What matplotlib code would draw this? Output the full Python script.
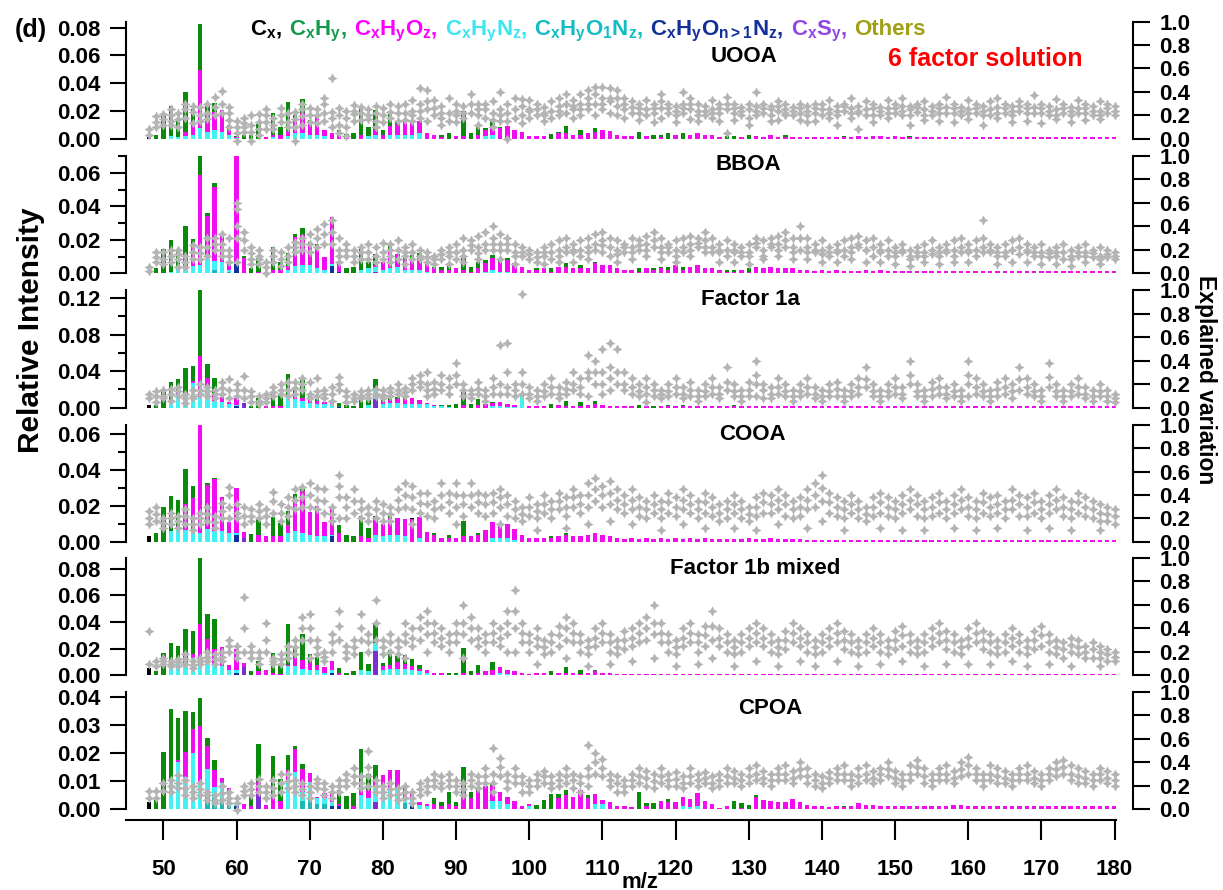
import numpy as np
import matplotlib.pyplot as plt

plt.rcParams['font.family'] = ['Liberation Sans', 'DejaVu Sans']
plt.rcParams['font.weight'] = 'bold'
plt.rcParams['mathtext.fontset'] = 'custom'
plt.rcParams['mathtext.rm'] = 'Liberation Sans:bold'
plt.rcParams['mathtext.it'] = 'Liberation Sans:bold'
plt.rcParams['mathtext.bf'] = 'Liberation Sans:bold'

W, H = 1223, 890
mz = np.arange(48, 181)

# ---------------- UOOA ----------------
uooa_cx = {48: .0012}
uooa_chy = {49: .0027, 50: .0176, 51: .0216, 52: .0125, 53: .029, 54: .011, 55: .033, 56: .0072, 57: .006,
            60: .0008, 61: .003, 62: .003, 63: .0104, 65: .0153, 66: .0052, 67: .0212, 68: .0048, 69: .0103,
            70: .0031, 74: .0033, 75: .0014, 76: .0043, 77: .0201, 78: .0062, 79: .0147, 80: .0033, 81: .0086,
            82: .0019, 83: .001, 88: .0015, 89: .0039, 91: .0182, 92: .0043, 93: .0057, 94: .0012, 95: .005,
            96: .001, 103: .0036, 104: .001, 105: .0054, 107: .0033, 108: .0005, 109: .003, 115: .005,
            117: .0027, 118: .0015, 119: .0043, 121: .0039, 127: .002, 128: .002, 130: .0025, 135: .0015,
            143: .001, 152: .001}
uooa_cho = [0, 0, 0, 0, 0, .0025, .0076, .0415, .0114, .0135,
            .0157, .0069, .0007, 0, 0, 0, .001, .002, .003, .0035,
            .0083, .0143, .0074, .0136, .0043, .0043, .003, .002, 0, .003,
            0, .003, .003, .0062, .0074, .0105, .008, .0085, .0039, .0027,
            .0012, 0, .002, .002, 0, .003, .0043, .0062, .0075, .0092,
            .0063, .005, .002, .002, .002, 0, .004, .004, .0027, .003,
            .0038, .005, .0063, .0055, .0027, .002, .002, 0, .002, 0,
            .0015, 0, .003, 0, .003, .0043, .0025, .0025, .0012, 0,
            0, .0012, 0, .002, .0012, .0025, .0015, .0012, .0015, .0012,
            .0013, .0012, .0013, .0012, .0013, .001, .0013, .0018, .0013, .0018,
            .0018, .0013, .0018, .0012, .0013, .0012, .0012, .0013, .0012, .0012,
            .0012, .0013, .0012, .0012, .0013, .0012, .0012, .0012, .0012, .0012,
            .0012, .0012, .0013, .0012, .0012, .0012, .0013, .0012, .0012, .0012,
            .0012, .0012, .0012]
uooa_chn = {51: .002, 52: .001, 53: .002, 54: .003, 55: .008, 56: .005, 57: .006, 58: .005, 59: .003,
            60: .0005, 65: .001, 67: .002, 68: .004, 69: .004, 70: .003, 71: .003, 72: .002, 78: .002,
            79: .003, 81: .003, 82: .003, 83: .003, 84: .003, 85: .004, 94: .002, 95: .003}
uooa_ev = [[.03], [.19, .14], [.21, .17], [.25, .2, .12], [.17, .1], [.3, .25], [.23, .13], [.27, .2], [.3, .22], [.36, .27],
           [.41, .3], [.27, .22, .1], [.1, .05, -.02], [.18, .13, .06], [.2, .12, -.02], [.21, .14, .03], [.2, .14, .08], [.12, .08], [.26, .2], [.22, .14],
           [.23, .17, -.02], [.25, .19, .12], [.26, .2], [.2, .13], [.35, .3, .15], [.52, .23, .1], [.26, .12, .05], [.24, .18, .02], [.29, .21, .15], [.27, .22],
           [.25, .17], [.28, .22, .15], [.26, .2], [.3, .23], [.28, .22], [.3, .22], [.33, .24, .15], [.43, .3, .18], [.42, .25, .15], [.33, .2],
           [.28, .18, .12], [.35, .22], [.3, .2, .14], [.28, .18], [.38, .22], [.3, .2, .12], [.25, .18], [.32, .22, .1], [.4, .25, .15], [.3, .22, .0],
           [.35, .25], [.28, .2, .13], [.33, .24, .18], [.3, .2], [.27, .2, .15], [.32, .24], [.35, .28, .2], [.38, .3, .22], [.33, .25, .18], [.38, .3, .2],
           [.42, .35, .25], [.44, .3, .2], [.44, .35, .25], [.43, .32, .22], [.42, .28, .2], [.35, .25, .18], [.32, .22], [.3, .22, .16], [.33, .25], [.3, .22, .14],
           [.38, .26, .18], [.3, .22], [.28, .2, .14], [.4, .3, .22], [.35, .25, .17], [.3, .24, .15], [.28, .2], [.33, .25, .18], [.3, .22, .15], [.36, .25, .05],
           [.3, .22, .16], [.27, .2], [.25, .18, .12], [.4, .28, .2], [.3, .22], [.28, .2, .15], [.32, .24, .16], [.3, .25, .2], [.27, .2], [.3, .22, .16],
           [.28, .2, .14], [.3, .22, .15], [.25, .2], [.33, .25, .18], [.28, .2, .12], [.3, .24], [.35, .26, .18], [.28, .22, .08], [.32, .25], [.3, .2, .14],
           [.27, .2], [.33, .26, .18], [.3, .22], [.35, .28, .2], [.28, .2, .12], [.3, .23], [.32, .25, .16], [.28, .2], [.3, .22, .15], [.36, .27],
           [.3, .22, .14], [.27, .2], [.33, .25, .17], [.3, .22], [.28, .2, .12], [.32, .25], [.35, .27, .18], [.3, .22], [.28, .2, .14], [.32, .24],
           [.3, .22, .15], [.37, .27], [.3, .22, .13], [.28, .2], [.34, .25, .17], [.3, .22], [.27, .2, .14], [.33, .26], [.3, .22, .16], [.28, .2],
           [.32, .24, .17], [.3, .22], [.28, .2]]
uooa_ev2 = [.08, .1, .12, .15, .22, .18, .28, .15, .17, .2,
            .22, .16, .15, .1, .06, .08, .25, .18, .14, .1,
            .1, .3, .14, .25, .22, .18, .2, .1, .24, .16,
            .2, .1, .14, .18, .15, .16, .2, .24, .32, .26,
            .22, .15, .24, .22, .3, .25, .3, .16, .2, .15,
            .18, .34, .25, .25, .22, .18, .24, .3, .28, .25,
            .3, .38, .3, .35, .35, .3, .27, .26, .2, .26,
            .32, .26, .24, .26, .3, .2, .24, .22, .26, .3,
            .26, .24, .3, .24, .26, .25, .28, .22, .24, .26,
            .24, .26, .3, .22, .24, .28, .22, .24, .2, .26,
            .24, .22, .26, .24, .25, .27, .2, .24, .26, .22,
            .26, .24, .22, .26, .24, .2, .22, .26, .24, .28,
            .26, .22, .26, .24, .2, .26, .24, .22, .26, .24,
            .2, .26, .24]

# ---------------- BBOA ----------------
bboa_cx = {48: .001}
bboa_chy = {49: .003, 50: .0143, 51: .0189, 52: .0105, 53: .0173, 54: .0048, 55: .0115, 56: .002, 57: .0028,
            61: .001, 62: .0034, 63: .008, 65: .0135, 66: .0049, 67: .0078, 68: .0015, 69: .004, 70: .0009,
            71: .001, 74: .0023, 75: .0034, 76: .004, 77: .0133, 78: .0039, 79: .0063, 81: .0029, 83: .001,
            84: .003, 85: .002, 86: .001, 87: .001, 88: .002, 89: .004, 91: .008, 92: .003, 93: .004, 94: .002,
            95: .002, 96: .001, 97: .001, 101: .001, 103: .002, 105: .002, 107: .002, 109: .001, 115: .002,
            117: .001, 118: .001, 119: .002, 121: .002, 127: .001, 128: .001, 130: .002}
bboa_cho = [0, 0, 0, 0, .001, .0079, .011, .0537, .0252, .0438,
            .0164, .0043, .063, .0093, 0, .001, .0005, .002, .002, .0025,
            .0174, .0179, .013, .0133, .0079, .0279, .004, 0, 0, 0,
            0, .0012, .0049, .0109, .0075, .006, .006, .008, .005, .003,
            .002, .002, .003, .002, .001, .003, .005, .007, .006, .007,
            .006, .004, .002, .002, .003, .001, .004, .004, .003, .003,
            .003, .006, .005, .005, .003, .002, .002, .001, .003, .002,
            .003, .002, .005, .002, .004, .005, .003, .003, .002, .001,
            .001, .002, .001, .004, .003, .004, .003, .003, .003, .002,
            .002, .0012, .002, .0015, .002, .0012, .0015, .0015, .002, .0015,
            .002, .0015, .0015, .0012, .0015, .0012, .0012, .0015, .0012, .0012,
            .0015, .0012, .0015, .0012, .0012, .0012, .0012, .0012, .0012, .0012,
            .0012, .0012, .0012, .0012, .0012, .0012, .0012, .0012, .0012, .0012,
            .0012, .0012, .0012]
bboa_chn = {51: .001, 52: .003, 53: .003, 54: .0045, 55: .005, 56: .009, 57: .0055, 58: .0065, 59: .001,
            60: .0015, 67: .002, 68: .0044, 69: .005, 70: .005, 71: .003, 72: .002, 73: .001, 77: .002,
            78: .003, 79: .003, 80: .002, 81: .003, 82: .004, 83: .002, 84: .002, 85: .002, 86: .001,
            94: .001, 95: .002, 96: .001, 97: .001}
bboa_chon = {57: .002, 59: .001}
bboa_chonn = {60: .0055, 73: .0045, 74: .001}
bboa_cs = {79: .001}
bboa_ev = [[.05], [.18, .1], [.18, .12], [.15, .1], [.2, .12, .05], [.15, .05], [.24, .18], [.22, .12], [.3, .22], [.3, .2],
           [.33, .25, .15], [.3, .2, .1], [.6, .55, .3, .1], [.35, .2], [.22, .17, .12], [.2, .15, .08], [.05, .0], [.15, .1], [.18, .12], [.22, .15],
           [.27, .18], [.3, .2], [.33, .25], [.38, .3], [.42, .33], [.45, .35], [.3, .2, .1], [.25, .15], [.2, .15], [.22, .18],
           [.25, .18], [.22, .15], [.26, .18], [.25, .2, .1], [.28, .2], [.22, .15, .08], [.25, .18], [.2, .12], [.18, .1], [.15, .08],
           [.2, .12], [.22, .15, .08], [.25, .18], [.3, .2, .1], [.28, .2], [.32, .22, .12], [.35, .25], [.4, .3, .2], [.33, .25, .12], [.3, .2],
           [.25, .18, .08], [.22, .15], [.2, .12], [.18, .1], [.22, .15, .08], [.25, .18], [.28, .2, .1], [.3, .22], [.25, .18, .1], [.28, .2],
           [.3, .22, .12], [.33, .25], [.35, .28, .18], [.3, .22], [.28, .2, .1], [.25, .18], [.3, .22, .12], [.28, .2], [.32, .25, .15], [.35, .28],
           [.3, .22, .12], [.25, .18], [.28, .2, .1], [.3, .22], [.32, .25, .15], [.3, .22], [.35, .28, .18], [.3, .22], [.25, .18, .1], [.28, .2],
           [.25, .18, .1], [.22, .15], [.25, .18, .08], [.3, .22], [.28, .2, .12], [.3, .22], [.32, .25, .15], [.35, .28], [.3, .22, .12], [.4, .3, .2],
           [.3, .22, .12], [.25, .18], [.28, .2, .1], [.22, .15], [.25, .18, .1], [.28, .2], [.3, .22, .12], [.32, .25], [.28, .2, .1], [.3, .22],
           [.25, .18, .1], [.28, .2], [.22, .15, .08], [.25, .18], [.2, .12, .06], [.22, .15], [.25, .18, .1], [.28, .2], [.22, .15, .08], [.25, .18],
           [.28, .2, .1], [.3, .22], [.25, .18, .1], [.28, .2], [.45, .3, .18], [.25, .18], [.22, .15, .08], [.25, .18], [.28, .2, .1], [.3, .22],
           [.25, .18, .1], [.22, .15], [.25, .18, .08], [.2, .14], [.22, .15, .08], [.25, .18], [.2, .12, .06], [.22, .15], [.25, .18, .1], [.2, .14],
           [.22, .15, .08], [.2, .14], [.18, .12]]
bboa_ev2 = [.02, .14, .08, .2, .16, .1, .12, .17, .15, .25,
            .2, .15, .4, .28, .08, .12, .1, .2, .06, .1,
            .22, .25, .18, .22, .25, .25, .15, .2, .1, .12,
            .12, .1, .12, .15, .12, .18, .12, .15, .14, .12,
            .16, .18, .12, .15, .24, .17, .2, .25, .2, .25,
            .15, .18, .16, .14, .18, .12, .15, .18, .2, .15,
            .18, .2, .24, .15, .16, .22, .18, .24, .2, .22,
            .18, .22, .15, .18, .2, .26, .22, .18, .2, .15,
            .2, .18, .15, .26, .15, .25, .2, .22, .18, .3,
            .18, .2, .16, .18, .2, .15, .18, .22, .2, .15,
            .2, .15, .18, .2, .15, .18, .15, .16, .18, .2,
            .15, .18, .2, .15, .22, .2, .18, .15, .2, .16,
            .2, .18, .15, .17, .18, .12, .15, .18, .15, .17,
            .12, .16, .15]

# ---------------- Factor 1a ----------------
f1a_cx = {48: .003}
f1a_chy = {49: .003, 50: .0175, 51: .0218, 52: .0157, 53: .0285, 54: .0164, 55: .0733, 56: .0157, 57: .0183,
           62: .002, 63: .0103, 65: .0155, 66: .013, 67: .0252, 68: .0095, 69: .0208, 70: .0044, 71: .0025,
           74: .004, 75: .003, 76: .002, 77: .0128, 78: .0058, 79: .012, 80: .0057, 81: .0059, 82: .0027,
           83: .003, 88: .001, 89: .002, 90: .004, 91: .0145, 92: .004, 93: .0065, 95: .001, 103: .004,
           105: .005, 107: .004, 109: .003, 115: .003, 117: .002, 119: .002, 121: .002, 128: .002}
f1a_cho = [0, 0, 0, 0, .001, .0019, .0027, .0447, .0084, .0066,
           .006, .0026, .008, 0, 0, 0, .002, .002, .002, 0,
           .0038, .0033, .0045, .003, .0018, .004, 0, 0, 0, 0,
           0, 0, .002, .003, .004, .005, .0063, .004, .001, .001,
           0, 0, 0, .003, 0, .003, .004, .003, .004, .003,
           .002, .001, .0015, .002, .002, 0, .003, .002, .002, .002,
           .003, .004, .003, .002, .002, .0015, .0015, 0, .0015, 0,
           .0015, .0015, .0015, .0015, .0015, .0015, .0015, .0015, .0015, .0015,
           .0015, .0015, .0015, .0015, .0015, .0015, .0015, .0015, .0015, .0015,
           .0015, .0015, .0015, .0015, .0015, .0015, .0015, .0015, .0015, .0015,
           .0015, .0015, .0015, .0015, .0015, .0015, .0015, .0015, .0015, .0015,
           .0015, .0015, .0015, .0015, .0015, .0015, .0015, .0015, .0015, .0015,
           .0015, .0015, .0015, .0015, .0015, .0015, .0015, .0015, .0015, .0015,
           .0015, .0015, .0015]
f1a_chn = {51: .006, 52: .0147, 53: .0128, 54: .0266, 55: .012, 56: .0238, 57: .0073, 58: .006, 59: .004,
           60: .001, 67: .0117, 68: .009, 69: .007, 70: .005, 71: .004, 72: .004, 73: .004, 78: .003,
           79: .0099, 80: .004, 81: .005, 82: .005, 83: .004, 84: .004, 85: .004, 86: .004, 87: .002,
           88: .002, 89: .001, 95: .002, 96: .002, 97: .001, 98: .001, 99: .015}
f1a_chonn = {60: .002, 74: .001}
f1a_cs = {61: .005, 79: .0095}
f1a_ev = [[.12], [.1, .05], [.15, .08], [.12, .06], [.18, .1], [.08, .04], [.15, .08], [.2, .12], [.18, .1], [.15, .08],
          [.22, .12], [.24, .15], [.2, .1], [.27, .15], [.1, .05], [.1, .06], [.12, .05], [.18, .1], [.2, .12], [.22, .1],
          [.22, .12], [.25, .15], [.22, .12], [.25, .14], [.15, .08], [.12, .06], [.26, .15], [.1, .05], [.12, .06], [.14, .08],
          [.15, .08], [.16, .1], [.15, .08], [.17, .1], [.2, .12], [.17, .1], [.25, .15], [.28, .18], [.3, .2, .1], [.22, .12],
          [.28, .15], [.25, .12], [.38, .2], [.2, .1], [.15, .08], [.22, .12], [.15, .06], [.25, .12], [.53, .2], [.55, .3, .12],
          [.2, .1], [.97, .3, .12], [.18, .08], [.15, .06], [.2, .1], [.25, .12], [.18, .08], [.22, .12], [.3, .15], [.25, .12],
          [.45, .25, .1], [.4, .2], [.5, .3, .12], [.55, .35, .15], [.5, .3], [.3, .15], [.25, .12], [.2, .1], [.25, .12, .05], [.2, .1],
          [.15, .08], [.2, .1], [.25, .12], [.18, .08], [.22, .1], [.15, .06], [.2, .1], [.25, .12], [.18, .08], [.35, .15],
          [.2, .1], [.15, .06], [.22, .1], [.4, .2, .1], [.2, .08], [.18, .08], [.25, .12], [.2, .1], [.15, .06], [.2, .1],
          [.25, .12], [.18, .08], [.15, .06], [.2, .1], [.22, .1], [.15, .06], [.2, .1], [.25, .12], [.35, .18], [.2, .1],
          [.15, .06], [.2, .1], [.25, .12], [.18, .08], [.4, .2], [.2, .1], [.15, .06], [.22, .1], [.25, .12], [.18, .08],
          [.2, .1], [.15, .06], [.4, .2, .1], [.25, .12], [.2, .1], [.15, .06], [.22, .1], [.25, .12], [.2, .08], [.35, .15],
          [.25, .12], [.2, .1], [.15, .06], [.38, .18], [.2, .1], [.15, .06], [.2, .1], [.25, .12], [.18, .08], [.15, .06],
          [.2, .1], [.15, .06], [.12, .05]]
f1a_ev2 = [.08, .14, .1, .16, .14, .12, .1, .15, .14, .12,
           .17, .08, .15, .08, .14, .03, .08, .13, .15, .15,
           .17, .2, .08, .1, .12, .18, .2, .14, .08, .1,
           .12, .12, .11, .13, .15, .13, .2, .22, .15, .16,
           .2, .18, .28, .15, .12, .16, .1, .18, .12, .18,
           .15, .2, .12, .1, .14, .18, .12, .16, .2, .18,
           .3, .3, .2, .25, .2, .2, .18, .14, .18, .15,
           .12, .14, .18, .12, .15, .1, .14, .18, .12, .22,
           .14, .1, .15, .28, .15, .12, .18, .14, .1, .14,
           .18, .12, .1, .14, .16, .1, .14, .18, .24, .14,
           .1, .14, .18, .12, .28, .14, .1, .16, .18, .12,
           .14, .1, .28, .18, .14, .1, .16, .18, .14, .24,
           .18, .14, .1, .26, .14, .1, .14, .18, .12, .1,
           .14, .1, .08]

# ---------------- COOA ----------------
cooa_cx = {48: .0032, 84: .0005}
cooa_chy = {49: .0047, 50: .0192, 51: .0198, 52: .0145, 53: .0197, 54: .007, 56: .0013, 57: .0007, 62: .0042,
            63: .0094, 65: .0109, 66: .0072, 67: .0078, 68: .0024, 69: .002, 74: .0043, 75: .004, 76: .003,
            77: .0113, 78: .0055, 79: .0015, 81: .001, 87: .001, 89: .002, 91: .0084, 93: .001, 103: .001,
            105: .001}
cooa_cho = [0, 0, 0, 0, .0012, .0143, .0172, .0604, .0246, .029,
            .0191, .0058, .0251, .0035, 0, .004, .003, .003, .003, .0043,
            .0182, .0233, .0124, .0169, .0078, .016, .005, 0, 0, .003,
            .002, .009, .0067, .0093, .0094, .0094, .0125, .0116, .0055, .004,
            .002, .002, .002, .003, .003, .004, .0065, .009, .007, .008,
            .006, .004, .002, .002, .002, .002, .003, .004, .003, .003,
            .004, .005, .004, .003, .002, .0015, .002, .0015, .002, .0015,
            .002, .0015, .002, .0015, .002, .0015, .002, .0015, .0015, .0015,
            .0015, .0015, .002, .0015, .0015, .002, .0015, .0015, .0015, .0015,
            .0012, .0012, .0012, .0012, .0012, .0012, .0012, .0012, .0012, .0012,
            .0012, .0012, .0012, .0012, .0012, .0012, .0012, .0012, .0012, .0012,
            .0012, .0012, .0012, .0012, .0012, .0012, .0012, .0012, .0012, .0012,
            .0012, .0012, .0012, .0012, .0012, .0012, .0012, .0012, .0012, .0012,
            .0012, .0012, .0012]
cooa_chn = {51: .0057, 52: .0075, 53: .0065, 54: .007, 55: .005, 56: .007, 57: .006, 58: .006, 59: .005,
            60: .0015, 67: .005, 68: .006, 69: .005, 70: .004, 71: .003, 72: .003, 73: .001, 79: .004,
            80: .003, 81: .004, 82: .004, 83: .003, 85: .002, 95: .002, 96: .002, 97: .002, 98: .001}
cooa_chonn = {60: .0035, 73: .003}
cooa_cs = {61: .002}
cooa_ev = [[.26, .15], [.3, .18], [.2, .12], [.25, .15], [.22, .12], [.28, .15], [.2, .1], [.25, .15], [.3, .18], [.22, .12],
           [.33, .2], [.47, .4, .2], [.32, .2], [.3, .15], [.28, .18], [.32, .2], [.28, .15], [.43, .25], [.32, .18], [.38, .22],
           [.45, .28], [.47, .3], [.5, .3], [.46, .28], [.45, .25], [.3, .18], [.57, .38, .2], [.38, .2], [.45, .25], [.35, .2],
           [.3, .18], [.35, .2], [.32, .18], [.3, .18], [.45, .28], [.5, .3], [.48, .28, .15], [.42, .25], [.42, .22], [.35, .2],
           [.5, .3], [.42, .25], [.5, .3, .15], [.4, .22], [.5, .3], [.42, .25], [.4, .22], [.42, .25], [.45, .3, .15], [.4, .22],
           [.35, .2], [.3, .18], [.38, .22], [.32, .2, .1], [.4, .25], [.35, .2], [.42, .28], [.38, .22, .12], [.45, .3], [.4, .25],
           [.5, .3, .15], [.55, .35], [.48, .3], [.52, .32, .18], [.45, .28], [.4, .25], [.45, .28, .15], [.38, .22], [.35, .2], [.4, .25],
           [.35, .2, .1], [.42, .25], [.38, .22], [.45, .28, .15], [.4, .25], [.35, .2], [.42, .25, .12], [.38, .22], [.32, .18], [.35, .2],
           [.4, .25, .12], [.35, .2], [.3, .18], [.38, .22, .1], [.42, .25], [.4, .25], [.45, .28, .15], [.4, .22], [.35, .2], [.38, .22],
           [.45, .28, .12], [.5, .3], [.57, .35, .18], [.42, .25], [.38, .22], [.35, .2, .1], [.4, .25], [.35, .2], [.3, .18], [.38, .22],
           [.42, .25, .12], [.38, .22], [.35, .2], [.4, .25, .1], [.45, .28], [.4, .22], [.35, .2, .1], [.38, .22], [.42, .25], [.35, .2],
           [.4, .25, .12], [.45, .28], [.38, .22], [.35, .2, .1], [.42, .25], [.38, .22], [.4, .25, .12], [.35, .2], [.45, .28], [.4, .22],
           [.38, .22, .1], [.42, .25], [.35, .2], [.4, .25, .12], [.45, .28], [.38, .22], [.35, .2, .1], [.42, .25], [.38, .22], [.35, .2],
           [.32, .18, .1], [.3, .18], [.28, .15]]
cooa_ev2 = [.2, .24, .16, .2, .18, .22, .15, .2, .24, .17,
            .26, .3, .25, .22, .22, .26, .22, .35, .25, .3,
            .36, .38, .4, .36, .35, .24, .48, .3, .35, .28,
            .24, .28, .25, .24, .36, .4, .38, .33, .32, .28,
            .4, .34, .4, .32, .4, .34, .32, .34, .38, .32,
            .28, .24, .3, .26, .32, .28, .35, .3, .38, .32,
            .4, .45, .4, .42, .36, .32, .36, .3, .28, .32,
            .28, .34, .3, .36, .32, .28, .34, .3, .25, .28,
            .32, .28, .24, .3, .34, .32, .36, .32, .28, .3,
            .36, .4, .46, .34, .3, .28, .32, .28, .24, .3,
            .34, .3, .28, .32, .36, .32, .28, .3, .34, .28,
            .32, .36, .3, .28, .34, .3, .32, .28, .36, .32,
            .3, .34, .28, .32, .36, .3, .28, .34, .3, .28,
            .25, .24, .22]

# ---------------- Factor 1b mixed ----------------
f1b_cx = {48: .0055}
f1b_chy = {49: .003, 50: .0168, 51: .0188, 52: .012, 53: .0237, 54: .0175, 55: .0501, 56: .0188, 57: .0225,
           62: .003, 63: .0078, 65: .0148, 66: .0075, 67: .0308, 68: .008, 69: .0198, 70: .007, 71: .0058,
           74: .0035, 75: .002, 76: .003, 77: .0133, 78: .0058, 79: .015, 80: .0025, 81: .0113, 82: .0045,
           83: .007, 84: .0055, 85: .003, 89: .002, 90: .002, 91: .0185, 92: .003, 93: .006, 95: .0058,
           103: .003, 105: .004, 107: .003, 109: .001}
f1b_cho = [0, 0, 0, 0, .001, .0033, .003, .0293, .0102, .0113,
           .014, .004, .016, .0035, 0, .003, .004, .002, .001, .001,
           .0063, .0065, .005, .004, .004, .0068, .002, 0, 0, 0,
           0, 0, .0028, .003, .0048, .0035, .0028, .002, .002, .002,
           .002, 0, 0, .002, 0, .002, .003, .004, .004, .003,
           .003, .002, .0012, .002, .002, 0, .002, .002, .002, .0012,
           .002, .003, .002, .002, .0012, .0012, .0012, .0012, .0012, .0012,
           .0012, .0012, .0012, .0012, .0012, .0012, .0012, .0012, .0012, .0012,
           .0012, .0012, .0012, .0012, .0012, .0012, .0012, .0012, .0012, .0012,
           .0012, .0012, .0012, .0012, .0012, .0012, .0012, .0012, .0012, .0012,
           .0012, .0012, .0012, .0012, .0012, .0012, .0012, .0012, .0012, .0012,
           .0012, .0012, .0012, .0012, .0012, .0012, .0012, .0012, .0012, .0012,
           .0012, .0012, .0012, .0012, .0012, .0012, .0012, .0012, .0012, .0012,
           .0012, .0012, .0012]
f1b_chn = {51: .0055, 52: .0093, 53: .008, 54: .013, 55: .0093, 56: .0173, 57: .0085, 58: .007, 59: .004,
           60: .002, 67: .0068, 68: .007, 69: .005, 70: .004, 71: .004, 72: .002, 73: .002, 77: .004,
           78: .003, 79: .0055, 80: .004, 81: .005, 82: .005, 83: .005, 84: .004, 85: .003, 86: .002,
           96: .002, 97: .001}
f1b_chonn = {60: .002, 73: .002}
f1b_cs = {61: .006, 79: .0185}
f1b_ev = [[.38], [.12], [.15, .1], [.12, .08], [.14, .08], [.18, .1], [.12, .06], [.15, .1], [.2, .12], [.18, .1],
          [.2, .12], [.3, .2], [.25, .15], [.67, .2], [.25, .15], [.2, .1], [.45, .2], [.15, .1], [.18, .1], [.25, .15],
          [.3, .18], [.5, .3], [.52, .3, .15], [.3, .18], [.2, .12], [.35, .2], [.55, .3], [.25, .15], [.3, .18], [.52, .3],
          [.35, .2], [.64, .3], [.3, .18], [.35, .2], [.3, .18], [.45, .28, .15], [.4, .25], [.5, .3], [.55, .35, .2], [.45, .28],
          [.4, .25], [.35, .2], [.45, .28], [.6, .35, .15], [.5, .3], [.4, .25], [.35, .2], [.45, .28], [.4, .25], [.55, .35, .2],
          [.73, .4, .2], [.45, .28], [.35, .2], [.4, .25, .1], [.3, .18], [.35, .2], [.42, .25], [.5, .3, .15], [.45, .28], [.35, .2],
          [.3, .18, .08], [.4, .25], [.45, .28], [.35, .2, .1], [.3, .18], [.38, .22], [.4, .25, .12], [.45, .28], [.5, .3], [.6, .35, .15],
          [.45, .28], [.35, .2], [.3, .18, .08], [.4, .25], [.45, .28], [.35, .2, .1], [.42, .25], [.55, .3, .15], [.4, .25], [.35, .2],
          [.3, .18, .08], [.35, .2], [.4, .25], [.45, .28, .12], [.4, .25], [.35, .2], [.3, .18, .08], [.38, .22], [.45, .28], [.4, .25, .12],
          [.35, .2], [.3, .18, .08], [.35, .2], [.4, .25], [.45, .28, .12], [.38, .22], [.35, .2], [.3, .18, .08], [.35, .2], [.4, .25],
          [.35, .2, .1], [.3, .18], [.38, .22], [.42, .25, .12], [.35, .2], [.3, .18], [.35, .2, .08], [.4, .25], [.45, .28], [.38, .22, .1],
          [.35, .2], [.3, .18], [.4, .25, .1], [.45, .28], [.38, .22], [.35, .2, .1], [.3, .18], [.35, .2], [.4, .25, .12], [.35, .2],
          [.3, .18, .08], [.38, .22], [.42, .25], [.35, .2, .1], [.3, .18], [.28, .15], [.32, .2, .08], [.3, .18], [.25, .15], [.28, .15],
          [.25, .15, .08], [.22, .12], [.2, .12]]
f1b_ev2 = [.1, .08, .12, .1, .11, .14, .09, .12, .16, .14,
           .16, .25, .2, .4, .2, .15, .3, .12, .14, .2,
           .24, .4, .4, .24, .16, .28, .42, .2, .24, .4,
           .28, .45, .24, .28, .24, .35, .32, .4, .45, .36,
           .32, .28, .36, .45, .4, .32, .28, .36, .32, .45,
           .55, .36, .28, .32, .24, .28, .34, .4, .36, .28,
           .24, .32, .36, .28, .24, .3, .32, .36, .4, .45,
           .36, .28, .24, .32, .36, .28, .34, .42, .32, .28,
           .24, .28, .32, .36, .32, .28, .24, .3, .36, .32,
           .28, .24, .28, .32, .36, .3, .28, .24, .28, .32,
           .28, .24, .3, .34, .28, .24, .28, .32, .36, .3,
           .28, .24, .32, .36, .3, .28, .24, .28, .32, .28,
           .24, .3, .34, .28, .24, .22, .26, .24, .2, .22,
           .2, .18, .16]

# ---------------- CPOA ----------------
cpoa_cx = {48: .0027}
cpoa_chy = {49: .0035, 50: .0204, 51: .0254, 52: .0148, 53: .0146, 54: .0061, 55: .01, 56: .0029, 57: .0036,
            62: .0032, 63: .0134, 65: .0139, 66: .0077, 67: .0054, 68: .001, 69: .0018, 74: .0048, 75: .0047,
            76: .0047, 77: .0148, 78: .0057, 79: .005, 87: .0019, 88: .0015, 89: .004, 90: .0015, 91: .0106,
            92: .002, 93: .0007, 95: .001, 101: .0016, 102: .0032, 103: .0055, 104: .0015, 105: .0017,
            108: .001, 115: .0062, 116: .0011, 117: .0021, 119: .001, 128: .003, 129: .0016, 130: .0015,
            131: .0005, 143: .0005}
cpoa_cho = [0, 0, 0, 0, .0006, .0088, .0084, .0205, .0084, .0059,
            .0021, .0019, 0, .002, .001, .0048, .0015, .005, .003, .0037,
            .0083, .008, .0031, .0005, .0017, .003, .001, 0, .001, .0018,
            .0028, .0029, .0039, .0072, .0068, .0031, .0022, .0012, .001, .002,
            .001, .002, .001, .0043, .004, .0064, .0083, .0053, .003, .0023,
            .0029, .001, .001, 0, 0, 0, .004, .005, .0043, .0067,
            .004, .0033, .0014, .0025, .001, .001, .0007, 0, .001, 0,
            .0031, .0025, .0025, .0035, .003, .0047, .003, .0018, .0005, .001,
            0, .0005, 0, .0045, .0034, .0031, .0025, .0025, .0035, .0025,
            .0015, .001, .001, .0008, .001, .0007, .001, .0021, .0015, .0015,
            .001, .001, .0012, .001, .001, .001, .001, .001, .001, .001,
            .0015, .0015, .0012, .001, .001, .001, .001, .001, .001, .001,
            .001, .001, .001, .001, .001, .001, .001, .001, .001, .001,
            .001, .001, .001]
cpoa_chn = {51: .0101, 52: .0169, 53: .0116, 54: .0201, 55: .0092, 56: .0092, 57: .004, 58: .0052, 59: .0025,
            60: .0012, 67: .0102, 68: .0133, 69: .0032, 70: .0057, 71: .002, 72: .002, 73: .0017, 77: .005,
            78: .004, 79: .0051, 80: .0082, 81: .0067, 82: .0071, 83: .002, 84: .003, 85: .0015, 86: .001,
            95: .003, 96: .003, 97: .002, 100: .001, 109: .002, 110: .002, 121: .001, 122: .0007, 123: .001}
cpoa_chon = {56: .005, 57: .004, 58: .004, 59: .003, 69: .003, 70: .004, 71: .002, 72: .002, 83: .0023}
cpoa_chonn = {60: .001, 73: .001, 74: .001, 84: .001}
cpoa_cs = {63: .005, 79: .0027}
cpoa_ev = [[.16], [.16], [.22], [.25, .15], [.29, .18], [.25, .12], [.2, .1], [.22, .12], [.15, .08], [.12, .05],
           [.2, .08], [.15, .05], [.1, -.01], [.2, .12], [.22, .12], [.26, .15], [.2, .1], [.25, .12], [.3, .15], [.3, .18],
           [.25, .15], [.22, .12], [.2, .1], [.26, .18], [.22, .12], [.2, .1], [.25, .15], [.3, .2], [.35, .22], [.28, .18],
           [.5, .36, .2], [.25, .15], [.2, .1], [.22, .12], [.18, .08], [.2, .1], [.15, .05], [.22, .12], [.25, .15], [.3, .2],
           [.28, .18], [.3, .2], [.25, .15], [.22, .12], [.3, .2], [.28, .18], [.35, .22], [.52, .3, .15], [.44, .28], [.3, .18],
           [.35, .22], [.28, .15], [.25, .15], [.3, .2], [.33, .22], [.28, .18], [.3, .2], [.35, .22], [.3, .18], [.28, .15],
           [.55, .35, .2], [.48, .3], [.43, .28], [.3, .2], [.28, .15], [.25, .15], [.3, .2], [.35, .22], [.33, .2], [.3, .18],
           [.35, .22], [.3, .2], [.32, .2], [.28, .18], [.35, .22], [.3, .2], [.32, .22], [.28, .18], [.3, .2], [.35, .22],
           [.33, .22], [.3, .2], [.35, .22], [.38, .25], [.33, .22], [.3, .2], [.35, .25], [.38, .25], [.33, .22], [.4, .28],
           [.35, .22], [.3, .2], [.28, .18], [.32, .22], [.35, .25], [.38, .25], [.3, .2], [.35, .22], [.38, .25], [.33, .22],
           [.35, .25], [.4, .28], [.33, .22], [.3, .2], [.38, .25], [.42, .3], [.35, .22], [.3, .2], [.35, .25], [.38, .25],
           [.33, .22], [.4, .28], [.45, .3], [.35, .25], [.3, .2], [.38, .25], [.35, .22], [.33, .22], [.3, .2], [.35, .25],
           [.38, .25], [.33, .22], [.3, .2], [.35, .25], [.4, .28], [.42, .3], [.38, .25], [.35, .22], [.33, .22], [.3, .2],
           [.35, .25], [.33, .22], [.3, .2]]
cpoa_ev2 = [.1, .1, .16, .2, .22, .18, .15, .17, .12, .08,
            .14, .1, .05, .16, .17, .2, .15, .18, .22, .24,
            .2, .17, .15, .22, .17, .15, .2, .25, .28, .22,
            .28, .2, .15, .17, .13, .15, .1, .17, .2, .25,
            .22, .25, .2, .17, .25, .22, .28, .22, .36, .24,
            .28, .22, .2, .25, .28, .22, .25, .28, .25, .22,
            .28, .4, .35, .25, .22, .2, .25, .28, .27, .24,
            .28, .25, .26, .22, .28, .25, .27, .22, .25, .28,
            .27, .25, .28, .3, .27, .25, .3, .3, .27, .34,
            .28, .25, .22, .27, .3, .3, .25, .28, .3, .27,
            .3, .34, .27, .25, .3, .36, .28, .25, .3, .3,
            .27, .34, .38, .3, .25, .3, .28, .27, .25, .3,
            .3, .27, .25, .3, .34, .36, .3, .28, .27, .25,
            .3, .27, .25]

# stacking order, bottom to top
stack_colors = {'cs': '#7a30d0', 'chonn': '#10309a', 'chon': '#1fb6b6', 'chn': '#40f2f4',
                'cho': '#f20cf0', 'chy': '#0a8a0a', 'cx': '#000000'}

panels = [
    dict(name='UOOA', top=.0843, major=.02, minor=None,
         cx=uooa_cx, chy=uooa_chy, cho=uooa_cho, chn=uooa_chn, ev=uooa_ev, ev2=uooa_ev2),
    dict(name='BBOA', top=.0703, major=.02, minor=.01,
         cx=bboa_cx, chy=bboa_chy, cho=bboa_cho, chn=bboa_chn, chon=bboa_chon,
         chonn=bboa_chonn, cs=bboa_cs, ev=bboa_ev, ev2=bboa_ev2),
    dict(name='Factor 1a', top=.129, major=.04, minor=.02,
         cx=f1a_cx, chy=f1a_chy, cho=f1a_cho, chn=f1a_chn, chonn=f1a_chonn, cs=f1a_cs,
         ev=f1a_ev, ev2=f1a_ev2),
    dict(name='COOA', top=.065, major=.02, minor=.01,
         cx=cooa_cx, chy=cooa_chy, cho=cooa_cho, chn=cooa_chn, chonn=cooa_chonn, cs=cooa_cs,
         ev=cooa_ev, ev2=cooa_ev2),
    dict(name='Factor 1b mixed', top=.088, major=.02, minor=None,
         cx=f1b_cx, chy=f1b_chy, cho=f1b_cho, chn=f1b_chn, chonn=f1b_chonn, cs=f1b_cs,
         ev=f1b_ev, ev2=f1b_ev2),
    dict(name='CPOA', top=.0417, major=.01, minor=None,
         cx=cpoa_cx, chy=cpoa_chy, cho=cpoa_cho, chn=cpoa_chn, chon=cpoa_chon,
         chonn=cpoa_chonn, cs=cpoa_cs, ev=cpoa_ev, ev2=cpoa_ev2),
]

# panel extents in pixels (top, bottom) and title positions
panel_px = [(21.7, 138.7), (155.7, 273.3), (290, 407.7), (425, 541.7), (558, 675.3), (692, 809.3)]
title_px = [(744, 57), (748, 165), (750, 300), (752, 434), (755, 569), (770, 708)]


def dense(d):
    if isinstance(d, list):
        return np.array(d, dtype=float)
    out = np.zeros(len(mz))
    for k, v in d.items():
        out[k - 48] = v
    return out


fig = plt.figure(figsize=(W / 100, H / 100), dpi=100)
left, right = 126 / W, 1116 / W

for i, (p, (pt, pb), (tx, ty)) in enumerate(zip(panels, panel_px, title_px)):
    ax = fig.add_axes([left, 1 - pb / H, right - left, (pb - pt) / H])
    bottom = np.zeros(len(mz))
    for key in ['cs', 'chonn', 'chon', 'chn', 'cho', 'chy', 'cx']:
        if key not in p:
            continue
        h = dense(p[key])
        ax.bar(mz, h, bottom=bottom, width=0.6, color=stack_colors[key], linewidth=0, zorder=2)
        bottom = bottom + h
    ax.set_xlim(44.88, 180.2)
    ax.set_ylim(0, p['top'])
    ticks = np.arange(0, p['top'] + 1e-9, p['major'])
    ax.set_yticks(ticks)
    ax.set_yticklabels([f"{t:.2f}" for t in ticks])
    if p['minor']:
        ax.set_yticks(np.arange(0, p['top'] + 1e-9, p['minor']), minor=True)
    ax.tick_params(axis='y', which='major', length=11.5, width=1.5, pad=7, labelsize=16, direction='out')
    ax.tick_params(axis='y', which='minor', length=5.8, width=1.5, direction='out')
    for s in ['top', 'right']:
        ax.spines[s].set_visible(False)
    ax.spines['left'].set_linewidth(1.5)
    if i == len(panels) - 1:
        ax.spines['bottom'].set_position(('outward', 8))
        ax.spines['bottom'].set_linewidth(1.5)
        ax.set_xticks(np.arange(50, 181, 10))
        ax.tick_params(axis='x', length=14.5, width=1.5, pad=13, labelsize=16, direction='out')
    else:
        ax.spines['bottom'].set_visible(False)
        ax.tick_params(axis='x', bottom=False, labelbottom=False)
    ax.patch.set_visible(False)

    # explained variation of each ion, on its own 0-1 axis
    ax2 = ax.twinx()
    xs, ys = [], []
    for m, vals, extra in zip(mz, p['ev'], p['ev2']):
        for v in vals + [extra]:
            xs.append(m)
            ys.append(v)
    ax2.scatter(xs, ys, s=52, marker=(4, 1, 0), c='#b4b4b4', linewidths=0, clip_on=False, zorder=3)
    ax2.set_ylim(0, 1)
    ax2.set_yticks(np.arange(0, 1.01, 0.2))
    ax2.set_yticklabels([f"{t:.1f}" for t in np.arange(0, 1.01, 0.2)])
    ax2.tick_params(axis='y', length=12, width=1.5, pad=7, labelsize=16, direction='out')
    for s in ['top', 'left', 'bottom']:
        ax2.spines[s].set_visible(False)
    ax2.spines['right'].set_position(('outward', 12.2))
    ax2.spines['right'].set_linewidth(1.5)

    fig.text(tx / W, 1 - ty / H, p['name'], ha='center', va='center', fontsize=16, fontweight='bold')

# formula-family key across the top
renderer = fig.canvas.get_renderer()
key_items = [(r"$\mathbf{C_x}$,", '#000000'),
             (r"$\mathbf{C_xH_y}$,", '#149a4c'),
             (r"$\mathbf{C_xH_yO_z}$,", '#ff00ff'),
             (r"$\mathbf{C_xH_yN_z}$,", '#3de6f0'),
             (r"$\mathbf{C_xH_yO_1N_z}$,", '#14bcc4'),
             (r"$\mathbf{C_xH_yO_{n>1}N_z}$,", '#13309a'),
             (r"$\mathbf{C_xS_y}$,", '#9146e6'),
             ("Others", '#a0a014')]
x0 = 250
for label, color in key_items:
    t = fig.text(x0 / W, 1 - 35 / H, label, color=color, fontsize=16, fontweight='bold',
                 ha='left', va='baseline')
    bb = t.get_window_extent(renderer)
    x0 = bb.x1 + 7

fig.text(15 / W, 1 - 30 / H, "(d)", fontsize=18, fontweight='bold', ha='left', va='center')
fig.text(985 / W, 1 - 59 / H, "6 factor solution", color='#ff0000', fontsize=18,
         fontweight='bold', ha='center', va='center')
fig.text(31 / W, 1 - 330 / H, "Relative Intensity", rotation=90, fontsize=21.5,
         fontweight='bold', ha='center', va='center')
fig.text(1205 / W, 1 - 380 / H, "Explained variation", rotation=-90, fontsize=16.5,
         fontweight='bold', ha='center', va='center')
fig.text(640 / W, 1 - 883 / H, "m/z", fontsize=16, fontweight='bold', ha='center', va='center')

fig.savefig('out.png', dpi=100)
